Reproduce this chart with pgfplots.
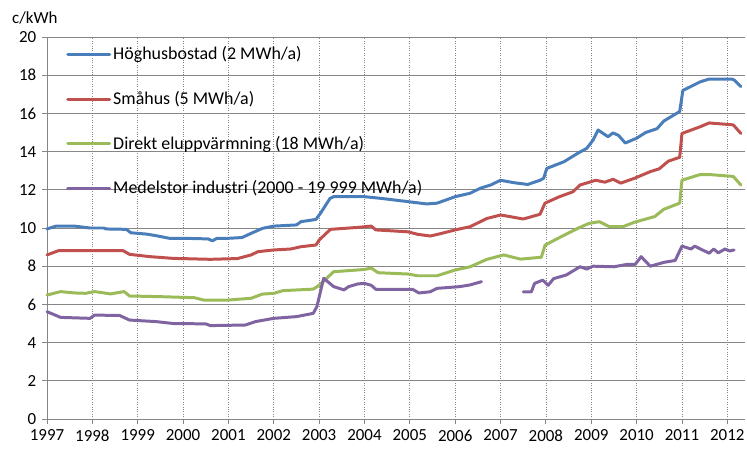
\documentclass[border=0pt]{standalone}
\usepackage{pgfplots}
\pgfplotsset{compat=1.18}
\usepackage{fontspec}
\setmainfont{Carlito}
\definecolor{cblue}{HTML}{4A7EBB}
\definecolor{cred}{HTML}{C0504D}
\definecolor{cgreen}{HTML}{9BBB59}
\definecolor{cpurple}{HTML}{8064A2}
\definecolor{gridc}{HTML}{868686}
\begin{document}
\fontsize{17}{20}\selectfont
\begin{tikzpicture}
\begin{axis}[
  scale only axis,
  width=698bp, height=382bp,
  xmin=1997, xmax=2012.39,
  ymin=0, ymax=20,
  xtick={1997,1998,...,2012},
  ytick={0,2,...,20},
  xticklabel style={/pgf/number format/1000 sep={}},
  /pgf/number format/assume math mode=true,
  axis x line=bottom, axis y line=left,
  axis line style={-, gridc, line width=0.8pt},
  tick style={gridc, line width=0.8pt},
  tick align=outside,
  major tick length=5bp,
  xmajorgrids=true, ymajorgrids=true,
  x grid style={gridc, dotted, line width=0.7pt},
  y grid style={gridc, solid, line width=0.9pt},
  tick label style={font=\fontsize{17}{20}\selectfont, black},
  unbounded coords=jump,
  legend style={draw=none, fill=none, at={(axis cs:1997.42,19.6)}, anchor=north west,
    font=\fontsize{18}{21}\selectfont, row sep=25bp, inner sep=0pt},
  legend cell align=left,
  legend image code/.code={\draw[#1, line width=3pt] (0bp,0bp) -- (42bp,0bp);},
  every axis plot/.append style={line width=3pt, line join=round, line cap=round},
  clip=false,
]
\addplot[cblue] coordinates {(1997.0,9.95) (1997.2,10.1) (1997.6,10.1) (1997.95,10.0) (1998.25,10.0) (1998.3,9.95) (1998.75,9.93) (1998.85,9.75) (1999.2,9.68) (1999.4,9.6) (1999.7,9.46) (2000.0,9.46) (2000.55,9.43) (2000.65,9.33) (2000.75,9.46) (2001.0,9.46) (2001.3,9.5) (2001.5,9.72) (2001.75,9.98) (2002.0,10.1) (2002.5,10.16) (2002.6,10.33) (2002.93,10.45) (2003.03,10.77) (2003.24,11.55) (2003.32,11.64) (2004.0,11.64) (2004.37,11.55) (2004.96,11.38) (2005.37,11.26) (2005.6,11.3) (2006.0,11.64) (2006.33,11.82) (2006.55,12.08) (2006.78,12.25) (2007.0,12.5) (2007.3,12.37) (2007.6,12.28) (2007.87,12.5) (2007.95,12.6) (2008.02,13.12) (2008.4,13.47) (2008.7,13.91) (2008.9,14.17) (2009.04,14.6) (2009.15,15.13) (2009.37,14.78) (2009.48,14.98) (2009.6,14.85) (2009.75,14.45) (2010.0,14.7) (2010.2,15.0) (2010.45,15.2) (2010.6,15.6) (2010.95,16.1) (2011.02,17.2) (2011.4,17.65) (2011.6,17.8) (2012.1,17.8) (2012.15,17.75) (2012.3,17.4)};
\addlegendentry{Höghusbostad (2 MWh/a)}
\addplot[cred] coordinates {(1997.0,8.59) (1997.25,8.81) (1998.68,8.81) (1998.82,8.62) (1999.27,8.5) (1999.78,8.41) (2000.6,8.36) (2001.2,8.4) (2001.5,8.59) (2001.65,8.76) (2002.0,8.85) (2002.37,8.9) (2002.6,9.02) (2002.93,9.11) (2003.0,9.37) (2003.25,9.93) (2003.85,10.03) (2004.15,10.1) (2004.25,9.9) (2004.96,9.8) (2005.17,9.67) (2005.45,9.58) (2005.67,9.7) (2006.0,9.9) (2006.33,10.07) (2006.7,10.5) (2007.0,10.68) (2007.2,10.6) (2007.5,10.47) (2007.87,10.72) (2007.98,11.3) (2008.3,11.64) (2008.6,11.9) (2008.75,12.25) (2009.1,12.5) (2009.3,12.4) (2009.48,12.55) (2009.65,12.35) (2009.95,12.6) (2010.3,12.95) (2010.5,13.1) (2010.7,13.5) (2010.95,13.7) (2011.0,14.95) (2011.4,15.3) (2011.6,15.5) (2012.13,15.4) (2012.3,14.95)};
\addlegendentry{Småhus (5 MWh/a)}
\addplot[cgreen] coordinates {(1997.0,6.49) (1997.3,6.67) (1997.6,6.6) (1997.85,6.58) (1998.05,6.67) (1998.4,6.55) (1998.7,6.67) (1998.82,6.44) (1999.57,6.4) (2000.25,6.35) (2000.45,6.23) (2001.0,6.23) (2001.5,6.32) (2001.75,6.54) (2002.0,6.58) (2002.2,6.72) (2002.87,6.8) (2003.0,7.0) (2003.32,7.71) (2004.0,7.83) (2004.15,7.9) (2004.3,7.66) (2004.96,7.59) (2005.17,7.5) (2005.6,7.5) (2006.0,7.8) (2006.33,7.97) (2006.7,8.36) (2007.07,8.59) (2007.44,8.37) (2007.9,8.47) (2007.98,9.1) (2008.3,9.5) (2008.7,9.98) (2008.95,10.24) (2009.18,10.33) (2009.4,10.07) (2009.7,10.07) (2009.95,10.3) (2010.4,10.6) (2010.6,10.98) (2010.95,11.3) (2011.0,12.5) (2011.4,12.8) (2011.6,12.8) (2012.13,12.7) (2012.3,12.25)};
\addlegendentry{Direkt eluppvärmning (18 MWh/a)}
\addplot[cpurple] coordinates {(1997.0,5.62) (1997.3,5.32) (1997.95,5.27) (1998.05,5.44) (1998.6,5.42) (1998.82,5.18) (1999.4,5.1) (1999.78,5.0) (2000.5,4.98) (2000.6,4.89) (2001.37,4.92) (2001.6,5.1) (2002.0,5.27) (2002.5,5.36) (2002.87,5.53) (2002.95,5.88) (2003.1,7.37) (2003.32,6.93) (2003.55,6.76) (2003.65,6.93) (2003.85,7.07) (2004.0,7.1) (2004.15,7.0) (2004.25,6.79) (2005.06,6.79) (2005.2,6.6) (2005.45,6.66) (2005.6,6.84) (2006.1,6.93) (2006.33,7.02) (2006.58,7.19) (2006.8,nan) (2007.5,6.66) (2007.68,6.66) (2007.75,7.1) (2007.93,7.27) (2008.05,7.0) (2008.17,7.35) (2008.45,7.54) (2008.75,7.97) (2008.9,7.85) (2009.04,8.0) (2009.5,7.97) (2009.8,8.1) (2009.97,8.1) (2010.1,8.5) (2010.3,8.0) (2010.6,8.2) (2010.85,8.3) (2011.0,9.05) (2011.2,8.9) (2011.28,9.05) (2011.6,8.68) (2011.7,8.9) (2011.8,8.7) (2011.95,8.9) (2012.05,8.8) (2012.15,8.85)};
\addlegendentry{Medelstor industri (2000 - 19 999 MWh/a)}
\node[anchor=west, inner sep=0pt, font=\fontsize{17}{20}\selectfont] at ([xshift=-35bp, yshift=19bp]axis cs:1997,20) {c/kWh};
\end{axis}
\pgfresetboundingbox
\useasboundingbox (-47bp,-31bp) rectangle (700bp,419bp);
\end{tikzpicture}
\end{document}
